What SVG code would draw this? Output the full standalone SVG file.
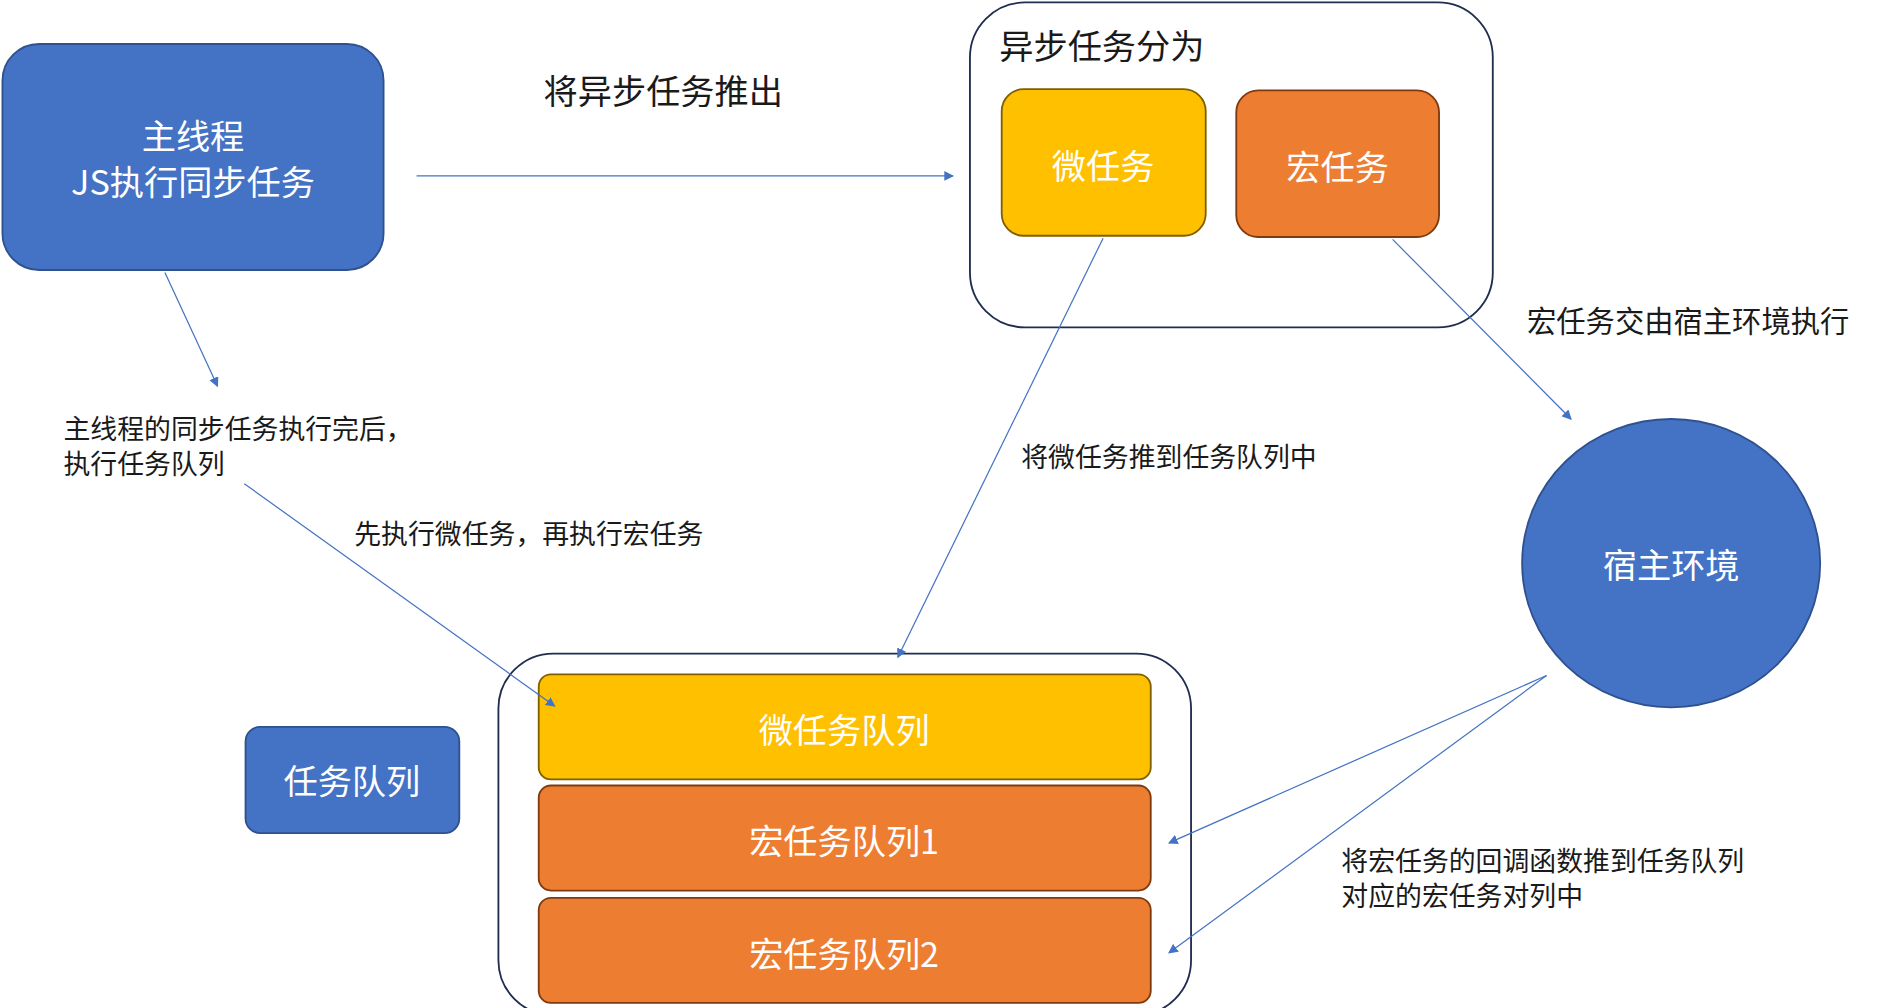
<svg xmlns="http://www.w3.org/2000/svg" width="1898" height="1008" viewBox="0 0 1898 1008">
<style>
text{font-family:"Noto Sans CJK SC","Liberation Sans",sans-serif}
.w{fill:#fff;text-anchor:middle;dominant-baseline:central}
.b{fill:#1a1a1a}
.blue{fill:#4472C4;stroke:#2F528F;stroke-width:1.5}
.yel{fill:#FFC000;stroke:#7F6000;stroke-width:1.5}
.ora{fill:#ED7D31;stroke:#7F3A10;stroke-width:1.5}
.cont{fill:#fff;stroke:#1F2D50;stroke-width:1.5}
.c line{stroke:#4472C4;stroke-width:1;marker-end:url(#a)}
</style>
<defs><marker id="a" markerWidth="8" markerHeight="8" refX="7" refY="4" orient="auto" markerUnits="userSpaceOnUse"><path d="M0,0L8,4L0,8z" fill="#4472C4"/></marker></defs>
<rect width="1898" height="1008" fill="#fff"/>
<g transform="scale(1.2216)">
<g id="main"><rect class="blue" x="2" y="36" width="312" height="185" rx="30"/><text class="w" x="158" y="110" font-size="28">主线程</text><text class="w" x="158" y="147" font-size="28">JS执行同步任务</text></g>
<g id="async"><rect class="cont" x="794" y="2" width="428" height="266" rx="45"/><text class="b" x="818" y="48" font-size="28">异步任务分为</text></g>
<g id="micro"><rect class="yel" x="820" y="73" width="167" height="120" rx="18"/><text class="w" x="903" y="134" font-size="28">微任务</text></g>
<g id="macro"><rect class="ora" x="1012" y="74" width="166" height="120" rx="18"/><text class="w" x="1095" y="135" font-size="28">宏任务</text></g>
<g id="host"><ellipse class="blue" cx="1368" cy="461" rx="122" ry="118"/><text class="w" x="1368" y="461" font-size="28">宿主环境</text></g>
<g id="queue"><rect class="cont" x="408" y="535" width="567" height="296" rx="45"/></g>
<g id="mq"><rect class="yel" x="441" y="552" width="501" height="86" rx="10"/><text class="w" x="691" y="596" font-size="28">微任务队列</text></g>
<g id="q1"><rect class="ora" x="441" y="643" width="501" height="86" rx="10"/><text class="w" x="691" y="687" font-size="28">宏任务队列1</text></g>
<g id="q2"><rect class="ora" x="441" y="735" width="501" height="86" rx="10"/><text class="w" x="691" y="779" font-size="28">宏任务队列2</text></g>
<g id="tq"><rect class="blue" x="201" y="595" width="175" height="87" rx="12"/><text class="w" x="288" y="638" font-size="28">任务队列</text></g>
<g class="c">
<line x1="341" y1="144" x2="780" y2="144"/>
<line x1="1140" y1="196" x2="1286" y2="343"/>
<line x1="903" y1="195" x2="735" y2="538"/>
<line x1="135" y1="223" x2="178" y2="316"/>
<line x1="200" y1="396" x2="454" y2="578"/>
<line x1="1266" y1="553" x2="957" y2="690"/>
<line x1="1266" y1="553" x2="957" y2="780"/>
</g>
<g id="labels" class="b">
<text class="b" x="445" y="85" font-size="28">将异步任务推出</text>
<text class="b" x="1250" y="272" font-size="24">宏任务交由宿主环境执行</text>
<text class="b" x="836" y="382" font-size="22">将微任务推到任务队列中</text>
<text class="b" x="52" y="359" font-size="22">主线程的同步任务执行完后，</text>
<text class="b" x="52" y="388" font-size="22">执行任务队列</text>
<text class="b" x="290" y="445" font-size="22">先执行微任务，再执行宏任务</text>
<text class="b" x="1098" y="713" font-size="22">将宏任务的回调函数推到任务队列</text>
<text class="b" x="1098" y="742" font-size="22">对应的宏任务对列中</text>
</g>
</g>
</svg>
